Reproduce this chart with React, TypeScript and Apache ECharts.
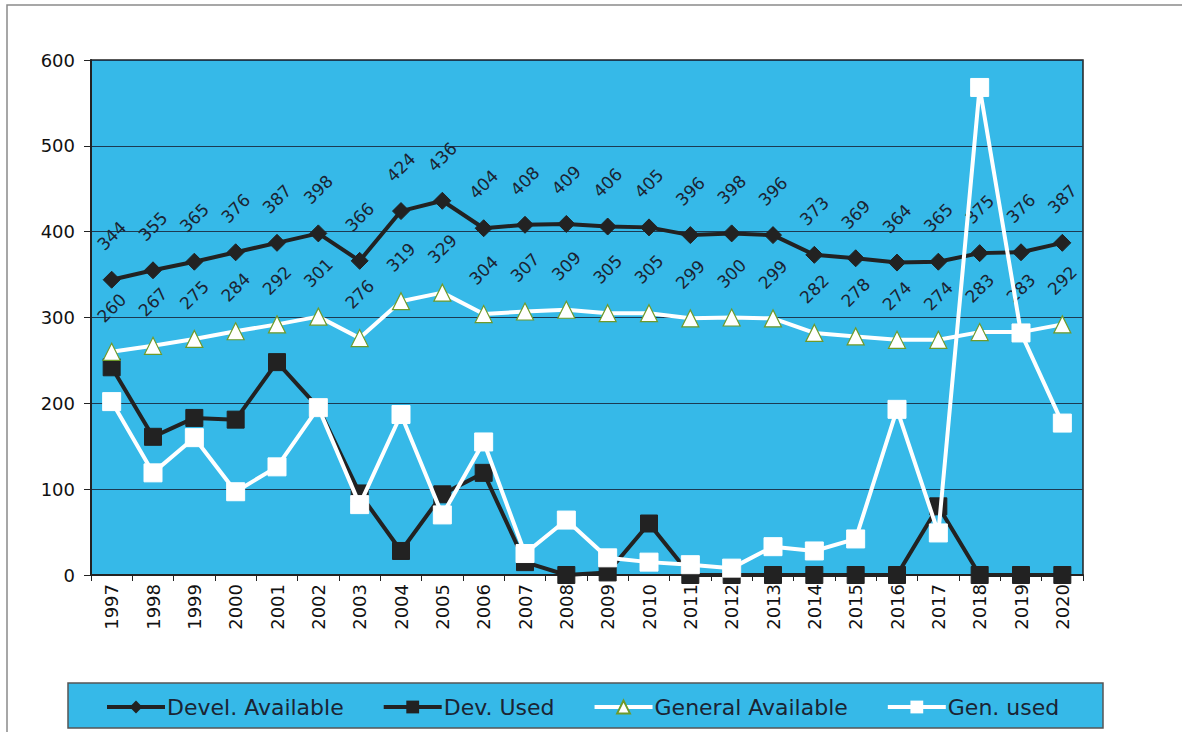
import React, { useEffect, useRef } from "react";
import * as echarts from "echarts";

const years = ["1997","1998","1999","2000","2001","2002","2003","2004","2005","2006","2007","2008","2009","2010","2011","2012","2013","2014","2015","2016","2017","2018","2019","2020"];
const develAvailable = [344,355,365,376,387,398,366,424,436,404,408,409,406,405,396,398,396,373,369,364,365,375,376,387];
const devUsed = [242,161,183,181,248,195,95,28,94,119,15,0,3,60,0,0,0,0,0,0,80,0,0,0];
const generalAvailable = [260,267,275,284,292,301,276,319,329,304,307,309,305,305,299,300,299,282,278,274,274,283,283,292];
const genUsed = [202,119,160,97,126,195,82,187,70,155,25,64,20,15,12,8,33,28,42,193,49,568,282,177];
const yTicks = [0, 100, 200, 300, 400, 500, 600];

const FONT = "DejaVu Sans, Verdana, sans-serif";
const BLUE = "#36b9e8";
const DARK = "#222222";
const TEXT = "#1b2433";

export default function App() {
  const ref = useRef<HTMLDivElement>(null);
  useEffect(() => {
    document.body.style.margin = "0";
    const chart = echarts.init(ref.current!, null, { renderer: "svg" });
    const labelCommon = {
      show: true,
      position: "inside",
      offset: [31, -31],
      rotate: 45,
      fontSize: 17,
      fontFamily: FONT,
      color: TEXT,
    };
    chart.setOption({
      animation: false,
      textStyle: { fontFamily: FONT },
      graphic: [
        {
          type: "rect",
          shape: { x: 7, y: 5, width: 1200, height: 740 },
          style: { fill: "none", stroke: "#8a8a8a", lineWidth: 1.5 },
          silent: true,
        },
        {
          type: "rect",
          shape: { x: 68, y: 683, width: 1035, height: 45 },
          style: { fill: BLUE, stroke: "#555", lineWidth: 1.5 },
          z: -1,
          silent: true,
        },
      ],
      grid: {
        left: 91,
        right: 99,
        top: 60,
        bottom: 157,
        show: true,
        backgroundColor: BLUE,
        borderColor: DARK,
        borderWidth: 1.5,
      },
      legend: {
        left: 100,
        top: 691,
        itemWidth: 58,
        itemHeight: 16,
        itemGap: 38,
        lineStyle: { width: 4 },
        textStyle: { fontSize: 22, fontFamily: FONT, color: TEXT, padding: [0, 0, 0, -3] },
        data: ["Devel. Available", "Dev. Used", "General Available", "Gen. used"],
      },
      xAxis: {
        type: "category",
        data: years,
        boundaryGap: true,
        axisLine: { lineStyle: { color: DARK, width: 2 } },
        axisTick: { show: true, length: 6, lineStyle: { color: DARK } },
        axisLabel: {
          rotate: 90,
          fontSize: 18,
          fontFamily: FONT,
          color: "#111",
          margin: 9,
        },
        splitLine: { show: false },
      },
      yAxis: {
        type: "value",
        min: 0,
        max: 600,
        interval: 100,
        axisLine: { show: true, lineStyle: { color: DARK, width: 2 } },
        axisTick: { show: true, length: 7, lineStyle: { color: DARK } },
        axisLabel: {
          fontSize: 18,
          fontFamily: FONT,
          color: "#111",
          margin: 16,
          formatter: (v: number) => (yTicks.includes(v) ? String(v) : ""),
        },
        splitLine: { show: true, lineStyle: { color: "#1c3a52", width: 1.2 } },
      },
      series: [
        {
          name: "Devel. Available",
          type: "line",
          data: develAvailable,
          symbol: "diamond",
          symbolSize: 17,
          lineStyle: { color: DARK, width: 4 },
          itemStyle: { color: DARK, borderColor: DARK },
          label: labelCommon,
          z: 3,
        },
        {
          name: "Dev. Used",
          type: "line",
          data: devUsed,
          symbol: "rect",
          symbolSize: 17,
          lineStyle: { color: DARK, width: 4 },
          itemStyle: { color: DARK, borderColor: DARK },
          z: 4,
        },
        {
          name: "General Available",
          type: "line",
          data: generalAvailable,
          symbol: "triangle",
          symbolSize: 17,
          lineStyle: { color: "#ffffff", width: 4 },
          itemStyle: { color: "#ffffff", borderColor: "#6f9a2a", borderWidth: 1.2 },
          label: labelCommon,
          z: 5,
        },
        {
          name: "Gen. used",
          type: "line",
          data: genUsed,
          symbol: "rect",
          symbolSize: 18,
          lineStyle: { color: "#ffffff", width: 4 },
          itemStyle: { color: "#ffffff", borderColor: "#ffffff" },
          z: 6,
        },
      ],
    });
    return () => chart.dispose();
  }, []);
  return <div ref={ref} style={{ width: 1182, height: 732 }} />;
}
